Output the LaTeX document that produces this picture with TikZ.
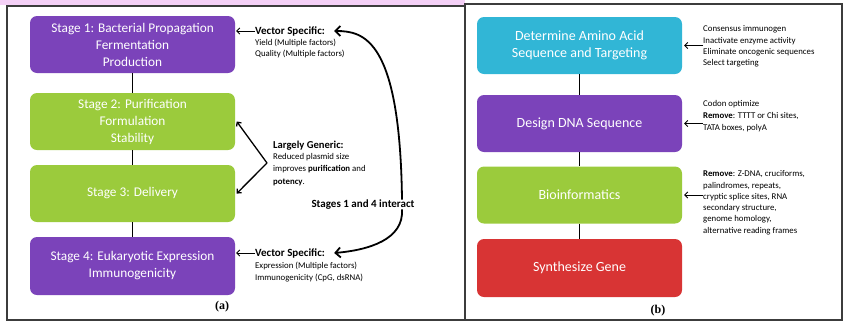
\documentclass[tikz,border=0pt]{standalone}
\usepackage{fontspec}
\setmainfont{Carlito}
\newfontfamily\capfont{Liberation Serif}
\usetikzlibrary{arrows.meta}

\definecolor{stagepurple}{RGB}{123,67,186}
\definecolor{stagegreen}{RGB}{155,203,60}
\definecolor{stagecyan}{RGB}{49,182,214}
\definecolor{stagered}{RGB}{216,52,52}
\definecolor{bandpink}{RGB}{244,208,246}
\definecolor{frameline}{RGB}{60,60,60}

\tikzset{
  stagebox/.style={rounded corners=7pt, minimum width=205pt, minimum height=57pt, text=white, align=center, font=\fontsize{13.3}{17}\selectfont},
  sidehead/.style={anchor=west, inner sep=0pt, font=\fontsize{11}{12}\selectfont\bfseries},
  sidenote/.style={anchor=north west, align=left, inner sep=0pt, font=\fontsize{8.8}{11.5}\selectfont},
  pointer/.style={-{Straight Barb[length=3pt,width=6pt]}, line width=0.9pt},
  bigpointer/.style={-{Straight Barb[length=5pt,width=10pt]}, line width=1.8pt},
  link/.style={line width=1.4pt},
  caption/.style={font=\capfont\fontsize{12}{14}\selectfont\bfseries}
}

\begin{document}
\begin{tikzpicture}[x=1pt,y=-1pt]
    \useasboundingbox (0,0) rectangle (843,322);
    % frames of the two panels
    \fill[bandpink] (0,0) rectangle (465,5);
    \draw[frameline, line width=1.1pt] (7,6) rectangle (465,320);
    \draw[frameline, line width=1.1pt] (465,4) rectangle (842,320);

    % panel (a)
    \node[stagebox, fill=stagepurple] (s1) at (132.5,44.5) {Stage 1: Bacterial Propagation\\Fermentation\\Production};
    \node[stagebox, fill=stagegreen] (s2) at (132.5,121.5) {Stage 2: Purification\\Formulation\\Stability};
    \node[stagebox, fill=stagegreen] (s3) at (132.5,193.5) {Stage 3: Delivery};
    \node[stagebox, fill=stagepurple, minimum height=58pt] (s4) at (132.5,266) {Stage 4: Eukaryotic Expression\\Immunogenicity};

    \draw[link] (s1) -- (s2);
    \draw[link] (s2) -- (s3);
    \draw[link] (s3) -- (s4);

    \node[sidehead] (vs1) at (255,31) {Vector Specific:};
    \node[sidenote] (vs1t) at (255,38.5) {Yield (Multiple factors)\\Quality (Multiple factors)};
    \node[sidehead, font=\fontsize{10.6}{12}\selectfont\bfseries] (lg) at (273,146) {Largely Generic:};
    \node[sidenote, font=\fontsize{8.8}{12.5}\selectfont] (lgt) at (273,153) {Reduced plasmid size\\improves \textbf{purification} and\\\textbf{potency}.};
    \node[sidehead] (vs4) at (255,253) {Vector Specific:};
    \node[sidenote, font=\fontsize{8.8}{12.5}\selectfont] (vs4t) at (255,261.5) {Expression (Multiple factors)\\Immunogenicity (CpG, dsRNA)};
    \node[font=\fontsize{11}{12}\selectfont\bfseries] (int) at (363,205) {Stages 1 and 4 interact};
    \coordinate (lgtip) at (267,163);

    \draw[pointer] (vs1.west) -- ([xshift=1pt]vs1.west -| s1.east);
    \draw[pointer] (vs4.west) -- ([xshift=1pt]vs4.west -| s4.east);
    \draw[pointer, line width=1.3pt] (lgtip) -- ([xshift=1.5pt]s2.east);
    \draw[pointer, line width=1.3pt] (lgtip) -- ([xshift=1.5pt]s3.east);
    \draw[bigpointer] ([xshift=39pt,yshift=-3pt]int.north) .. controls +(-2,-160) and +(30,0) .. ([xshift=9pt]vs1.east);
    \draw[bigpointer] ([xshift=39pt,yshift=4pt]int.south) .. controls +(2,30) and +(35,-3) .. ([xshift=9pt]vs4.east);

    \node[caption] (capa) at (222,307) {(a)};

    % panel (b)
    \node[stagebox, fill=stagecyan, font=\fontsize{14}{17}\selectfont] (b1) at (579.5,45.5) {Determine Amino Acid\\Sequence and Targeting};
    \node[stagebox, fill=stagepurple, font=\fontsize{14}{17}\selectfont] (b2) at (579.5,123.5) {Design DNA Sequence};
    \node[stagebox, fill=stagegreen, font=\fontsize{14}{17}\selectfont] (b3) at (579.5,195) {Bioinformatics};
    \node[stagebox, fill=stagered, font=\fontsize{14}{17}\selectfont, minimum height=58pt] (b4) at (579.5,268) {Synthesize Gene};

    \draw[link] (b1) -- (b2);
    \draw[link] (b2) -- (b3);
    \draw[link] (b3) -- (b4);

    \node[sidenote, font=\fontsize{8.8}{11.3}\selectfont] (n1) at (703,25.5) {Consensus immunogen\\Inactivate enzyme activity\\Eliminate oncogenic sequences\\Select targeting};
    \node[sidenote, font=\fontsize{8.8}{12}\selectfont] (n2) at (703,100.5) {Codon optimize\\\textbf{Remove}: TTTT or Chi sites,\\TATA boxes, polyA};
    \node[sidenote, font=\fontsize{8.8}{11.3}\selectfont] (n3) at (703,170.5) {\textbf{Remove}: Z-DNA, cruciforms,\\palindromes, repeats,\\cryptic splice sites, RNA\\secondary structure,\\genome homology,\\alternative reading frames};

    \draw[pointer] (n1.west |- b1.east) -- ([xshift=2pt]b1.east);
    \draw[pointer] (n2.west |- b2.east) -- ([xshift=2pt]b2.east);
    \draw[pointer] (n3.west |- b3.east) -- ([xshift=2pt]b3.east);

    \node[caption] (capb) at (658,311) {(b)};
\end{tikzpicture}
\end{document}
